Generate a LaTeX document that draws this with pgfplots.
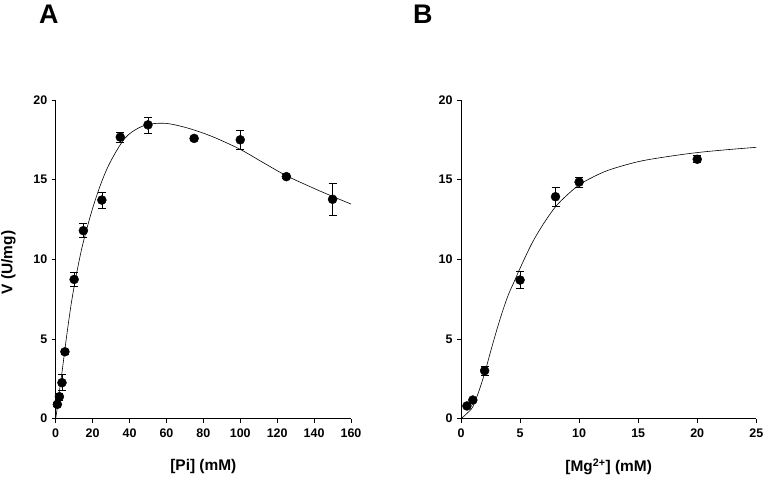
\documentclass[border=0pt]{standalone}
\usepackage{fontspec}
\setmainfont{Liberation Sans}
\usepackage{pgfplots}
\usepackage{pgfplotstable}
\pgfplotsset{compat=1.18}

\pgfplotstableread{
x y e
0.9 0.90 0.15
2 1.38 0.20
3.4 2.26 0.50
5 4.20 0.15
10 8.74 0.46
15 11.80 0.44
25 13.72 0.50
35 17.67 0.32
50 18.44 0.50
75 17.59 0.12
100 17.50 0.60
125 15.19 0.12
150 13.77 1.00
}\dataA

\pgfplotstableread{
x y e
0.5 0.80 0.10
1 1.17 0.10
2 3.01 0.29
5 8.70 0.52
8 13.93 0.60
10 14.85 0.32
20 16.28 0.22
}\dataB

\pgfplotsset{panel/.style={
  scale only axis, width=295.3bp, height=318.7bp,
  axis lines*=left, tick align=outside,
  ymin=0, ymax=20, ytick={0,5,...,20},
  major tick length=4bp,
  axis line style={black, line width=0.6bp},
  tick style={black, line width=0.6bp},
  ticklabel style={font=\bfseries\fontsize{12.5}{14}\selectfont},
  xticklabel style={yshift=-2.5bp},
  yticklabel style={xshift=-1bp},
  /pgf/number format/assume math mode=true,
  label style={font=\bfseries\fontsize{15.5}{18}\selectfont},
  xlabel style={at={(axis description cs:0.5,-0.151)}, anchor=center},
  ylabel style={at={(axis description cs:-0.160,0.49)}, anchor=center},
  clip=false,
}}
\pgfplotsset{pts/.style={only marks, mark=*, mark size=4.5bp, black,
  error bars/.cd, y dir=both, y explicit,
  error bar style={line width=0.6bp, black},
  error mark options={rotate=90, mark size=4bp, line width=0.6bp, black}}}

\begin{document}
\begin{tikzpicture}
\path[use as bounding box] (0,0) rectangle (765bp,482bp);

\begin{axis}[panel, at={(55.7bp,63.3bp)}, anchor=south west,
  xmin=0, xmax=160, xtick={0,20,...,160},
  xlabel={[Pi] (mM)}, ylabel={V (U/mg)}]
\addplot[black, line width=0.6bp, smooth, tension=0.55] coordinates {
(0,0) (1,0.8) (2,1.7) (3.4,2.9) (5.6,4.9) (8,6.9) (10,8.3) (12.5,9.8) (15,11.1)
(20,13.2) (25,14.9) (30,16.2) (37.5,17.6) (45,18.25) (52,18.5) (60,18.53)
(69,18.32) (78,18.0) (87,17.6) (100,16.9) (112,16.1) (125,15.25) (140,14.45)
(150,13.95) (160,13.47)
};
\addplot[pts] table[x=x, y=y, y error=e] {\dataA};
\end{axis}

\begin{axis}[panel, at={(461bp,63.3bp)}, anchor=south west,
  xmin=0, xmax=25, xtick={0,5,...,25},
  xlabel={[Mg\textsuperscript{2+}] (mM)}]
\addplot[black, line width=0.6bp, smooth, tension=0.55] coordinates {
(0,0) (0.5,0.33) (1,0.75) (1.5,1.7) (2,2.85) (2.5,4.2) (3,5.5) (3.5,6.7)
(4,7.76) (4.5,8.6) (5,9.44) (6,11.0) (7,12.25) (8,13.3) (9,14.05) (10,14.67)
(11,15.1) (12.5,15.6) (15,16.13) (17.5,16.45) (20,16.7) (22.5,16.88) (25,17.03)
};
\addplot[pts] table[x=x, y=y, y error=e] {\dataB};
\end{axis}

\node[font=\bfseries\fontsize{27}{32}\selectfont, anchor=north west, inner sep=0pt] at (39bp,477bp) {A};
\node[font=\bfseries\fontsize{27}{32}\selectfont, anchor=north west, inner sep=0pt] at (413bp,477bp) {B};
\end{tikzpicture}
\end{document}
